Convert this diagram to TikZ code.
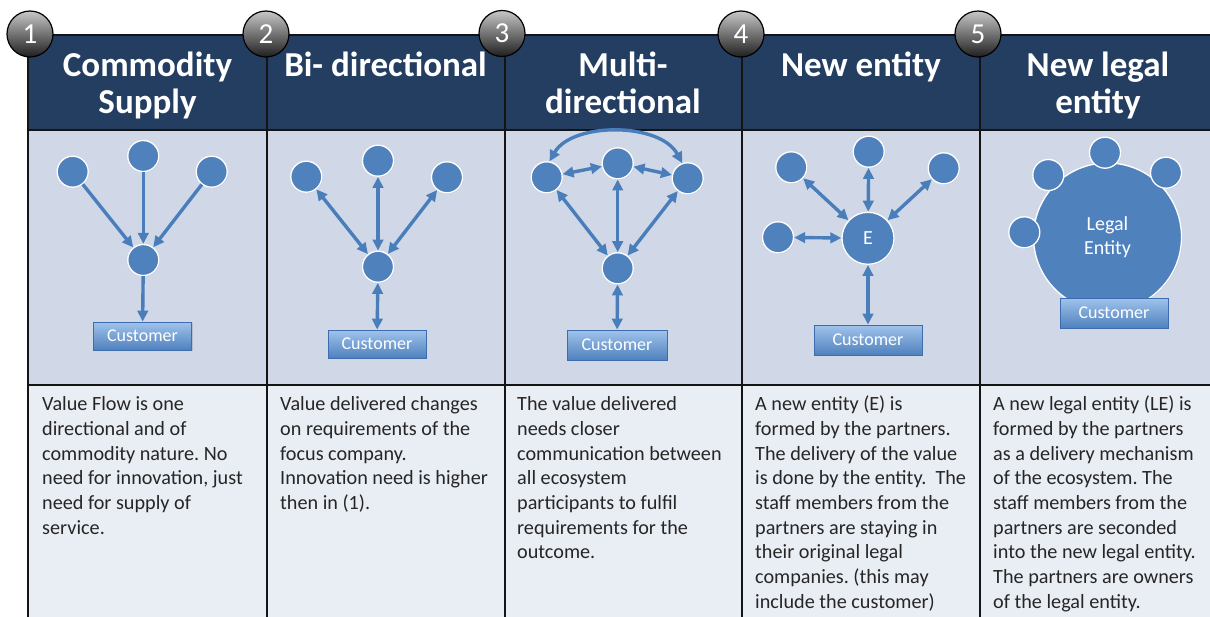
\documentclass[tikz,border=0pt]{standalone}
\usepackage{fontspec}
\setmainfont{Carlito}
\usetikzlibrary{arrows.meta,shadows}

\definecolor{headblue}{RGB}{36,62,98}
\definecolor{diagfill}{RGB}{208,216,232}
\definecolor{textfill}{RGB}{233,237,244}
\definecolor{nodeblue}{RGB}{79,129,189}
\definecolor{arrowblue}{RGB}{74,126,187}
\definecolor{custtop}{RGB}{160,195,236}
\definecolor{custedge}{RGB}{60,110,175}
\definecolor{gridline}{RGB}{20,20,20}

\begin{document}
\frenchspacing
\begin{tikzpicture}[x=1pt,y=-1pt,
  gridrule/.style={draw=gridline,line width=1.4},
  numball/.style={circle,minimum size=46,inner sep=0,top color=black!22,bottom color=black!88,
    middle color=black!55,draw=black,line width=1.2,text=white,font=\fontsize{29}{29}\selectfont},
  headtext/.style={text=white,anchor=base,inner sep=0,font=\bfseries\fontsize{35}{37.5}\selectfont},
  bodytext/.style={anchor=base west,inner sep=0,text=black!85,font=\fontsize{20.2}{24.7}\selectfont},
  partner/.style={circle,fill=nodeblue,draw=white,line width=1.3,minimum size=31,inner sep=0,
    drop shadow={opacity=0.25,shadow xshift=0.8pt,shadow yshift=-0.8pt}},
  entity/.style={partner,minimum size=52,text=white,font=\fontsize{20}{20}\selectfont},
  legal/.style={partner,minimum size=148,text=white,font=\fontsize{20}{24.5}\selectfont,align=center},
  cust/.style={rectangle,top color=custtop,bottom color=nodeblue,draw=custedge,line width=0.8,
    minimum height=28,inner sep=0,text=white,font=\fontsize{18}{18}\selectfont,
    drop shadow={opacity=0.3,shadow xshift=1pt,shadow yshift=-1pt}},
  flow/.style={draw=arrowblue,line width=3.4,-{Triangle[length=11pt,width=10.5pt]}},
  both/.style={draw=arrowblue,line width=3.4,{Triangle[length=11pt,width=10.5pt]}-{Triangle[length=11pt,width=10.5pt]}}
]
\clip (0,0) rectangle (1210,616);

% table rows
\fill[headblue] (28,35) rectangle (1220,130);
\fill[diagfill] (28,130) rectangle (1220,385);
\fill[textfill] (28,385) rectangle (1220,620);

% table rules
\draw[gridrule] (28,620) -- (28,35) -- (1220,35);
\foreach \x in {267,505,742,980} \draw[gridrule] (\x,35) -- (\x,620);
\draw[gridrule] (28,130) -- (1220,130);
\draw[gridrule] (28,385) -- (1220,385);

% column titles
\node[headtext] (h1) at (147.5,76) {\begin{tabular}[t]{c}Commodity\\Supply\end{tabular}};
\node[headtext] (h2) at (385.5,76) {Bi- directional};
\node[headtext] (h3) at (623,76) {\begin{tabular}[t]{c}Multi-\\directional\end{tabular}};
\node[headtext] (h4) at (861,76) {New entity};
\node[headtext] (h5) at (1098,76) {\begin{tabular}[t]{c}New legal\\entity\end{tabular}};

% numbered markers
\node[numball] (n1) at (30,34) {1};
\node[numball] (n2) at (266,34) {2};
\node[numball] (n3) at (502,33.5) {3};
\node[numball] (n4) at (741,34) {4};
\node[numball] (n5) at (978,34) {5};

% 1: commodity supply
\node[partner] (a1) at (72.7,171.7) {};
\node[partner] (a2) at (143.3,156) {};
\node[partner] (a3) at (211.7,171.7) {};
\node[partner] (ac) at (143.3,260) {};
\node[cust,minimum width=98] (acu) at (142.5,336) {Customer};
\draw[flow] (a1) -- (ac);
\draw[flow] (a2) -- (ac);
\draw[flow] (a3) -- (ac);
\draw[flow] (ac) -- (acu);

% 2: bi-directional
\node[partner] (b1) at (306.3,176.7) {};
\node[partner] (b2) at (378,160.7) {};
\node[partner] (b3) at (447,177.3) {};
\node[partner] (bc) at (378,266.7) {};
\node[cust,minimum width=98] (bcu) at (377,344) {Customer};
\draw[both] (b1) -- (bc);
\draw[both] (b2) -- (bc);
\draw[both] (b3) -- (bc);
\draw[both] (bc) -- (bcu);

% 3: multi-directional
\node[partner] (c1) at (546.7,177.3) {};
\node[partner] (c2) at (617.7,163.3) {};
\node[partner] (c3) at (687.7,178.3) {};
\node[partner] (cc) at (617.7,268.3) {};
\node[cust,minimum width=100,minimum height=30] (ccu) at (617,345) {Customer};
\draw[both] (c1) -- (c2);
\draw[both] (c2) -- (c3);
\draw[both] (c1) -- (cc);
\draw[both] (c2) -- (cc);
\draw[both] (c3) -- (cc);
\draw[both] (cc) -- (ccu);
\draw[both] (c1.80) .. controls (572,122) and (660,122) .. (c3.110);

% 4: new entity
\node[partner] (d1) at (791.3,167.3) {};
\node[partner] (d2) at (868.7,151.7) {};
\node[partner] (d3) at (943.7,168.3) {};
\node[partner] (d4) at (778,237.3) {};
\node[entity] (de) at (868,238.3) {E};
\node[cust,minimum width=108,minimum height=30] (dcu) at (868,340) {Customer};
\draw[both] (d1) -- (de);
\draw[both] (d2) -- (de);
\draw[both] (d3) -- (de);
\draw[both] (d4) -- (de);
\draw[both] (de) -- (dcu);

% 5: new legal entity
\node[legal] (le) at (1107.5,237) {Legal\\Entity};
\node[partner] (e1) at (1105,152.7) {};
\node[partner] (e2) at (1048.3,175) {};
\node[partner] (e3) at (1166,172.7) {};
\node[partner] (e4) at (1024.3,232.3) {};
\node[cust,minimum width=108,minimum height=30] (ecu) at (1114,313) {Customer};

% descriptions
\node[bodytext] (t1) at (42,410.7) {\begin{tabular}[t]{@{}l@{}}
Value Flow is one\\ directional and of\\ commodity nature. No\\ need for innovation, just\\
need for supply of\\ service.\end{tabular}};
\node[bodytext] (t2) at (280,410.7) {\begin{tabular}[t]{@{}l@{}}
Value delivered changes\\ on requirements of the\\ focus company.\\
Innovation need is higher\\ then in (1).\end{tabular}};
\node[bodytext] (t3) at (517,410.7) {\begin{tabular}[t]{@{}l@{}}
The value delivered\\ needs closer\\ communication between\\ all ecosystem\\
participants to fulfil\\ requirements for the\\ outcome.\end{tabular}};
\node[bodytext] (t4) at (755,410.7) {\begin{tabular}[t]{@{}l@{}}
A new entity (E) is\\ formed by the partners.\\ The delivery of the value\\
is done by the entity.\ \ The\\ staff members from the\\ partners are staying in\\
their original legal\\ companies. (this may\\ include the customer)\end{tabular}};
\node[bodytext] (t5) at (993,410.7) {\begin{tabular}[t]{@{}l@{}}
A new legal entity (LE) is\\ formed by the partners\\ as a delivery mechanism\\
of the ecosystem. The\\ staff members from the\\ partners are seconded\\
into the new legal entity.\\ The partners are owners\\ of the legal entity.\end{tabular}};
\end{tikzpicture}
\end{document}
